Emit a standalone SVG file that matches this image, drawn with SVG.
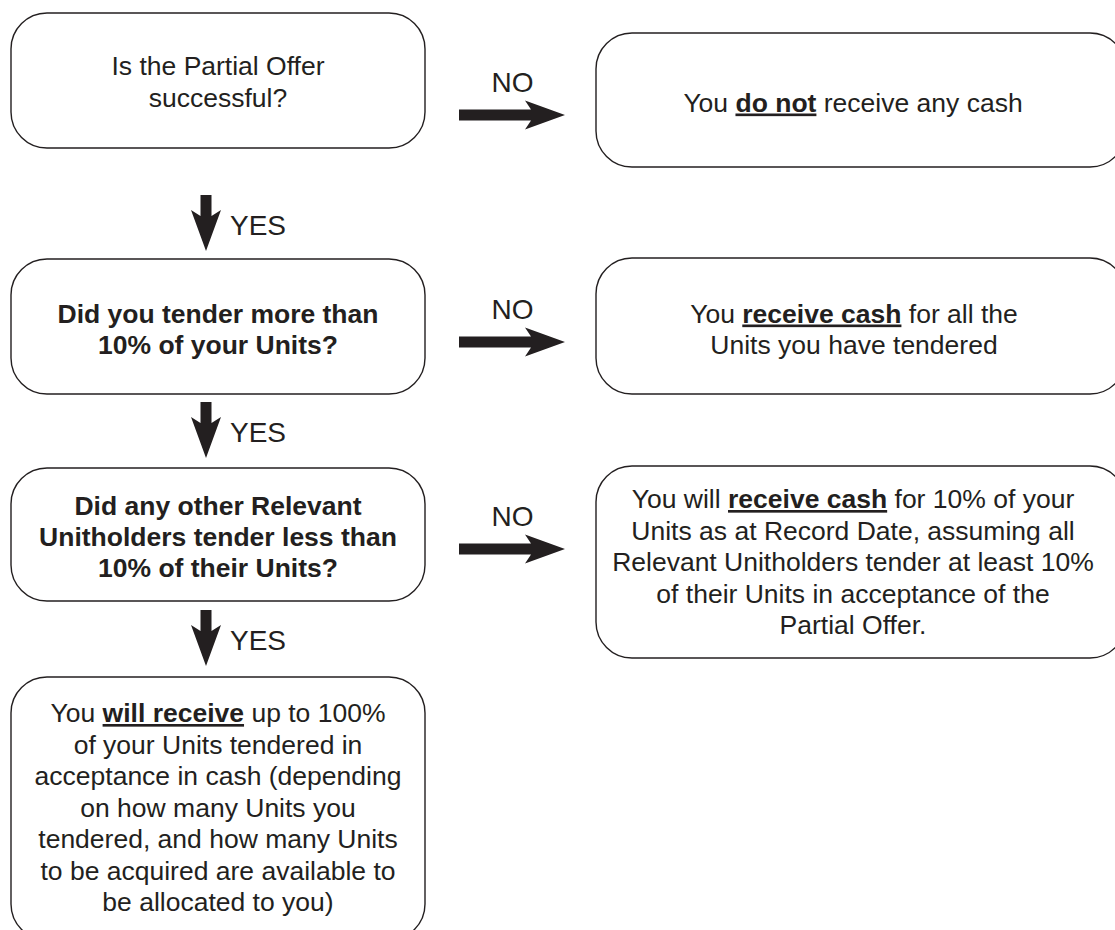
<svg xmlns="http://www.w3.org/2000/svg" width="1115" height="930" viewBox="0 0 1115 930">
<style>
.box{fill:#fff;stroke:#231f20;stroke-width:1.4}
.t{font-family:"Liberation Sans",Arial,Helvetica,sans-serif;font-size:26.5px;fill:#231f20;text-anchor:middle}
.b{font-weight:bold}
.u{font-weight:bold;text-decoration:underline}
.lbl{font-family:"Liberation Sans",Arial,Helvetica,sans-serif;font-size:28px;fill:#231f20}
.arr{fill:#231f20;stroke:none}
</style>
<rect width="1115" height="930" fill="#fff"/>
<g id="q1">
<rect class="box" x="11" y="13" width="414" height="135" rx="36" ry="36"/>
<text class="t" x="218" y="75">Is the Partial Offer</text>
<text class="t" x="218" y="106.5">successful?</text>
</g>
<g id="r1">
<rect class="box" x="596" y="33" width="530" height="134" rx="36" ry="36"/>
<text class="t" x="853" y="111.5">You <tspan class="u">do not</tspan> receive any cash</text>
</g>
<g id="q2">
<rect class="box" x="11" y="259" width="414" height="135" rx="36" ry="36"/>
<text class="t b" x="218" y="322.5">Did you tender more than</text>
<text class="t b" x="218" y="354">10% of your Units?</text>
</g>
<g id="r2">
<rect class="box" x="596" y="258" width="530" height="136" rx="36" ry="36"/>
<text class="t" x="854" y="322.5">You <tspan class="u">receive cash</tspan> for all the</text>
<text class="t" x="854" y="354">Units you have tendered</text>
</g>
<g id="q3">
<rect class="box" x="11" y="468" width="414" height="133" rx="36" ry="36"/>
<text class="t b" x="218" y="515">Did any other Relevant</text>
<text class="t b" x="218" y="546">Unitholders tender less than</text>
<text class="t b" x="218" y="577">10% of their Units?</text>
</g>
<g id="r3">
<rect class="box" x="596" y="466" width="530" height="192" rx="36" ry="36"/>
<text class="t" x="853" y="508">You will <tspan class="u">receive cash</tspan> for 10% of your</text>
<text class="t" x="853" y="539.5">Units as at Record Date, assuming all</text>
<text class="t" x="853" y="571">Relevant Unitholders tender at least 10%</text>
<text class="t" x="853" y="602.5">of their Units in acceptance of the</text>
<text class="t" x="853" y="634">Partial Offer.</text>
</g>
<g id="r4">
<rect class="box" x="11" y="677" width="414" height="263" rx="36" ry="36"/>
<text class="t" x="218" y="722">You <tspan class="u">will receive</tspan> up to 100%</text>
<text class="t" x="218" y="753.5">of your Units tendered in</text>
<text class="t" x="218" y="785">acceptance in cash (depending</text>
<text class="t" x="218" y="816.5">on how many Units you</text>
<text class="t" x="218" y="848">tendered, and how many Units</text>
<text class="t" x="218" y="879.5">to be acquired are available to</text>
<text class="t" x="218" y="911">be allocated to you)</text>
</g>
<g id="connectors">
<path class="arr" d="M459,109.5 L531,109.5 L525,100.5 L565,115 L525,129.5 L531,120.5 L459,120.5 Z"/>
<text class="lbl" x="512.5" y="91.5" text-anchor="middle">NO</text>
<path class="arr" d="M459,336.5 L531,336.5 L525,327.5 L565,342 L525,356.5 L531,347.5 L459,347.5 Z"/>
<text class="lbl" x="512.5" y="319" text-anchor="middle">NO</text>
<path class="arr" d="M459,543.5 L531,543.5 L525,534.5 L565,549 L525,563.5 L531,554.5 L459,554.5 Z"/>
<text class="lbl" x="512.5" y="525.5" text-anchor="middle">NO</text>
<path class="arr" d="M200.5,195 L211.5,195 L211.5,216 L221,210 L206,251 L191,210 L200.5,216 Z"/>
<text class="lbl" x="230" y="235">YES</text>
<path class="arr" d="M200.5,402 L211.5,402 L211.5,423 L221,417 L206,458 L191,417 L200.5,423 Z"/>
<text class="lbl" x="230" y="442">YES</text>
<path class="arr" d="M200.5,610 L211.5,610 L211.5,631 L221,625 L206,666 L191,625 L200.5,631 Z"/>
<text class="lbl" x="230" y="650">YES</text>
</g>
</svg>
